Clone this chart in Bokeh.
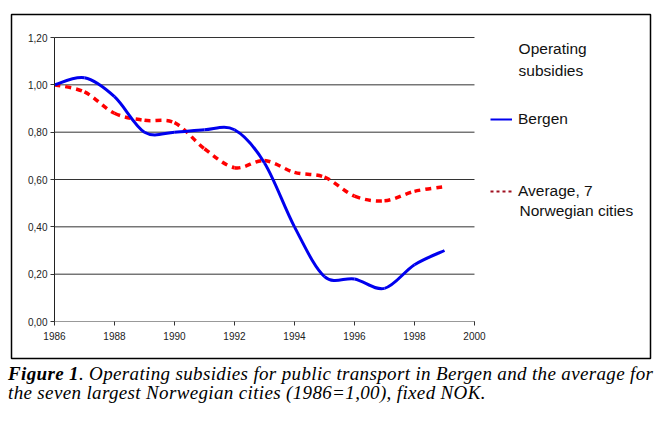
from bokeh.plotting import figure
from bokeh.models import (ColumnDataSource, Range1d, FixedTicker, CustomJSTickFormatter,
                          Legend, LegendItem, Label, Div)
from bokeh.layouts import column
from bokeh.embed import file_html
from bokeh.resources import INLINE

# ---- data ----
years = [1986, 1987, 1988, 1989, 1990, 1991, 1992, 1993, 1994, 1995, 1996, 1997, 1998, 1999]
bergen = [1.00, 1.03, 0.95, 0.80, 0.80, 0.81, 0.81, 0.67, 0.40, 0.19, 0.18, 0.14, 0.24, 0.30]
average = [1.00, 0.97, 0.88, 0.85, 0.84, 0.73, 0.65, 0.68, 0.63, 0.61, 0.53, 0.51, 0.55, 0.57]
x_ticks = [1986, 1988, 1990, 1992, 1994, 1996, 1998, 2000]
y_ticks = [0.0, 0.2, 0.4, 0.6, 0.8, 1.0, 1.2]
legend_title = ["Operating", "subsidies"]
series_names = ["Bergen", "Average, 7", "Norwegian cities"]
caption_bold = "Figure 1"
caption_line1 = ". Operating subsidies for public transport in Bergen and the average for"
caption_line2 = "the seven largest Norwegian cities (1986=1,00), fixed NOK."

FONT = "Liberation Sans"
NAN = float("nan")


def smooth_segments(xs, ys):
    """Excel-style smoothed line: one cubic Bezier per pair of data points
    (Catmull-Rom control points derived from neighbouring data points)."""
    n = len(xs)
    d = dict(x0=[], y0=[], x1=[], y1=[], cx0=[], cy0=[], cx1=[], cy1=[])
    for i in range(n - 1):
        a = max(i - 1, 0)
        b = min(i + 2, n - 1)
        d["x0"].append(xs[i]); d["y0"].append(ys[i])
        d["x1"].append(xs[i + 1]); d["y1"].append(ys[i + 1])
        d["cx0"].append(xs[i] + (xs[i + 1] - xs[a]) / 6.0)
        d["cy0"].append(ys[i] + (ys[i + 1] - ys[a]) / 6.0)
        d["cx1"].append(xs[i + 1] - (xs[b] - xs[i]) / 6.0)
        d["cy1"].append(ys[i + 1] - (ys[b] - ys[i]) / 6.0)
    return ColumnDataSource(d)


# The plot frame is the chart's outer box; the axes sit inside it at fixed locations.
p = figure(width=652, height=360,
           x_range=Range1d(1984.567, 2005.867), y_range=Range1d(-0.1563, 1.2972),
           min_border_left=11, min_border_right=2, min_border_top=14, min_border_bottom=2,
           toolbar_location=None, output_backend="svg",
           background_fill_color="white", border_fill_color="white")
p.outline_line_color = "black"
p.outline_line_width = 1.5
p.grid.visible = False

# horizontal grid lines, spanning the axis extent only
p.segment(x0=[x_ticks[0]] * len(y_ticks), x1=[x_ticks[-1]] * len(y_ticks),
          y0=y_ticks, y1=y_ticks, line_color="#333333", line_width=1)

# axes
p.xaxis.ticker = FixedTicker(ticks=x_ticks)
p.yaxis.ticker = FixedTicker(ticks=y_ticks)
p.yaxis.formatter = CustomJSTickFormatter(code="return tick.toFixed(2).replace('.', ',');")
p.xaxis.fixed_location = y_ticks[0]
p.yaxis.fixed_location = x_ticks[0]
p.xaxis.bounds = (x_ticks[0], x_ticks[-1])
p.yaxis.bounds = (y_ticks[0], y_ticks[-1])
for ax in (p.xaxis[0], p.yaxis[0]):
    ax.major_label_text_font = FONT
    ax.major_label_text_font_size = "10px"
    ax.major_label_text_color = "#222222"
    ax.major_tick_in = 0
    ax.major_tick_out = 4
    ax.minor_tick_line_color = None
    ax.major_tick_line_color = "#333333"
p.xaxis.axis_line_color = "#999999"
p.yaxis.axis_line_color = "#222222"
p.xaxis.major_label_standoff = 6
p.yaxis.major_label_standoff = 3

# series (smoothed)
bsrc = smooth_segments(years, bergen)
asrc = smooth_segments(years, average)
p.bezier(x0="x0", y0="y0", x1="x1", y1="y1", cx0="cx0", cy0="cy0", cx1="cx1", cy1="cy1",
         source=asrc, line_color="#ff0000", line_width=3.5, line_dash="6 5")
p.bezier(x0="x0", y0="y0", x1="x1", y1="y1", cx0="cx0", cy0="cy0", cx1="cx1", cy1="cy1",
         source=bsrc, line_color="#0000ee", line_width=3)

# legend proxies (legend samples are styled differently from the plotted lines);
# NaN data so they draw nothing in the plot itself
lb = p.line(x=[NAN], y=[NAN], line_color="#0000ee", line_width=2)
la = p.line(x=[NAN], y=[NAN], line_color="#a01020", line_width=2, line_dash="3 3")

legend = Legend(items=[LegendItem(label=series_names[0], renderers=[lb]),
                       LegendItem(label=series_names[1], renderers=[la])],
                location=(479, 157), orientation="vertical",
                padding=0, margin=0, spacing=52,
                glyph_width=22, glyph_height=20, label_height=20, label_standoff=6,
                label_text_font=FONT, label_text_font_size="15.5px", label_text_color="#111111",
                background_fill_alpha=0, border_line_color=None)
p.add_layout(legend)

# legend title and second line of the average label
p.add_layout(Label(x=2001.47, y=1.1535, text=legend_title[0], text_baseline="middle",
                   text_font=FONT, text_font_size="15.5px", text_color="#111111"))
p.add_layout(Label(x=2001.47, y=1.062, text=legend_title[1], text_baseline="middle",
                   text_font=FONT, text_font_size="15.5px", text_color="#111111"))
p.add_layout(Label(x=2001.5, y=0.469, text=series_names[2], text_baseline="middle",
                   text_font=FONT, text_font_size="15.5px", text_color="#111111"))

caption = Div(text=(
    '<div style="font-family:\'Liberation Serif\',\'Times New Roman\',serif;font-style:italic;'
    'font-size:19px;letter-spacing:0.35px;line-height:19px;color:#000;white-space:nowrap;'
    'margin-top:-1px;padding-left:3px">'
    f'<b>{caption_bold}</b>{caption_line1}<br>{caption_line2}</div>'),
    width=660, height=50)

layout = column(p, caption, spacing=0)
open("out.html", "w").write(file_html(layout, INLINE))
